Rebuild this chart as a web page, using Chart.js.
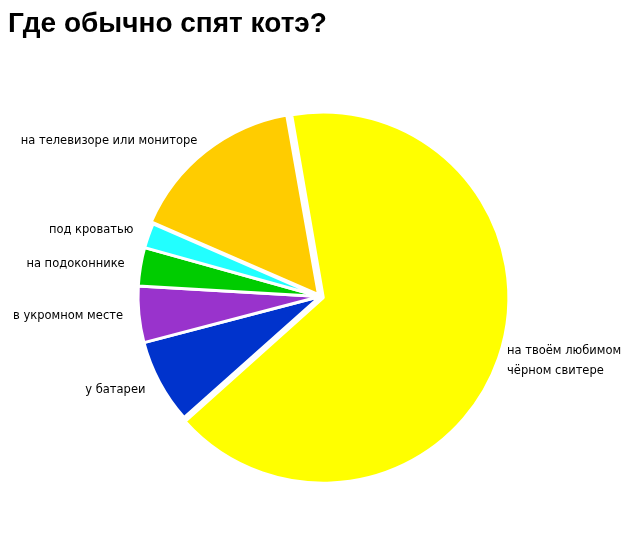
<!DOCTYPE html>
<html><head><meta charset="utf-8">
<script src="https://cdn.jsdelivr.net/npm/chart.js@4/dist/chart.umd.min.js"></script>
<style>html,body{margin:0;background:#fff}#wrap{width:640px;height:545px}</style>
</head><body>
<div id="wrap"><canvas id="c"></canvas></div>
<script>
const title = "Где обычно спят котэ?";
const labels = [
  ["на твоём любимом", "чёрном свитере"],
  ["у батареи"],
  ["в укромном месте"],
  ["на подоконнике"],
  ["под кроватью"],
  ["на телевизоре или мониторе"]
];
const values = [66.2, 7.5, 5.0, 3.4, 2.2, 15.7];
const colors = ["#ffff00", "#0033cc", "#9933cc", "#00cc00", "#22ffff", "#ffcc00"];
const offsets = [14, 0, 0, 0, 0, 10];

const outsideLabels = {
  id: "outsideLabels",
  afterDraw(chart) {
    const ctx = chart.ctx;
    ctx.save();
    ctx.fillStyle = "#000";
    ctx.font = "bold 28px 'Liberation Sans'";
    ctx.textAlign = "left";
    ctx.textBaseline = "middle";
    ctx.fillText(title, 8, 24);
    ctx.font = "11.5px 'DejaVu Sans'";
    chart.getDatasetMeta(0).data.forEach((arc, i) => {
      const mid = (arc.startAngle + arc.endAngle) / 2;
      const r = arc.outerRadius + 16;
      const x = arc.x + Math.cos(mid) * r;
      const y = arc.y + Math.sin(mid) * r;
      ctx.textAlign = Math.cos(mid) >= 0 ? "left" : "right";
      const lines = labels[i];
      lines.forEach((t, k) => {
        ctx.fillText(t, x, y + (k - (lines.length - 1) / 2) * 20);
      });
    });
    ctx.restore();
  }
};

new Chart(document.getElementById("c"), {
  type: "pie",
  data: {
    labels: labels.map(l => l.join(" ")),
    datasets: [{
      data: values,
      backgroundColor: colors,
      borderColor: "#fff",
      borderWidth: 3,
      offset: offsets
    }]
  },
  options: {
    responsive: true,
    maintainAspectRatio: false,
    animation: false,
    rotation: -10,
    layout: { padding: { top: 106, bottom: 58, left: 120, right: 120 } },
    plugins: {
      legend: { display: false },
      tooltip: { enabled: false }
    }
  },
  plugins: [outsideLabels]
});
</script>
</body></html>
